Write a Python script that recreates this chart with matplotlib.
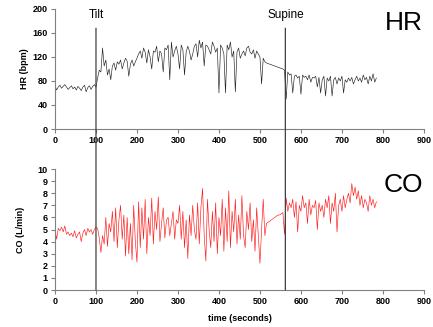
import numpy as np
import matplotlib
matplotlib.use("Agg")
import matplotlib.pyplot as plt
from matplotlib.patches import ConnectionPatch

plt.rcParams["font.family"] = ["Liberation Sans", "DejaVu Sans"]

# time axis (seconds), one sample every 4 s
t = np.arange(0, 785, 4)

hr = [72, 65, 70, 73, 68, 71, 74, 70, 66, 69, 72, 67, 70, 65, 71, 68, 64, 70, 73, 62, 69, 72, 66, 71, 74, 70,
      85, 98, 95, 135, 105,
      115, 90, 100, 82, 105, 110, 98, 112, 108, 115, 100, 110, 118, 113, 88, 108, 115, 105, 112, 118,
      125, 130, 118, 135, 128, 110, 132, 120, 100, 130, 128, 138, 112, 130, 125, 95, 135, 132, 140, 82, 145, 120, 130, 138, 125,
      100, 140, 132, 90, 128, 138, 130, 115, 125, 138, 142, 120, 148, 135, 145, 105, 140, 138, 132, 125, 145, 138, 128, 135, 60,
      140, 135, 125, 60, 140, 132, 145, 120, 130, 62, 128, 135, 118, 125, 130, 122, 135, 138, 128, 125, 132, 118, 130, 125, 120,
      75, 118, 112, 110, 109, 108, 107, 106, 105, 104, 103, 102, 101, 100, 98,
      50, 95, 90, 92, 60, 88, 90, 85, 88, 58, 90, 86, 88, 82, 90, 78, 86, 85, 88, 70, 86, 60, 82, 88, 55,
      85, 80, 88, 55, 82, 86, 75, 85, 80, 88, 60, 82, 78, 85, 80, 86, 75, 82, 88, 80, 85, 78, 90, 82, 86, 75, 88, 80, 92, 78, 85]

co = [5.0, 4.2, 5.1, 4.9, 5.2, 4.8, 5.3, 4.6, 4.8, 4.5, 4.7, 4.4, 4.9, 4.3, 4.6, 4.8, 4.0, 4.7, 5.0, 4.5, 5.1, 4.8, 5.0, 4.6, 5.0, 5.2,
      5.1, 4.3, 3.1, 4.5, 3.8,
      6.0, 3.6, 5.5, 4.8, 6.5, 4.0, 6.8, 3.5, 5.8, 7.0, 4.2, 6.2, 2.8, 6.0, 3.0, 5.5, 2.5, 7.0, 4.0, 2.3,
      7.3, 3.5, 6.8, 4.2, 7.5, 3.0, 6.0, 4.5, 7.6, 3.8, 6.5, 5.0, 7.7, 4.0, 5.5, 6.8, 4.3, 5.8, 6.0, 4.5, 5.5, 6.5, 4.2, 5.8, 5.5,
      7.0, 4.2, 6.5, 3.5, 5.8, 2.6, 6.2, 4.5, 7.0, 5.0, 4.2, 7.2, 3.8, 6.8, 8.4, 4.5, 2.4, 7.5, 5.0, 3.5, 6.5, 4.0, 7.2, 3.0, 6.0,
      4.5, 7.5, 3.2, 6.8, 4.0, 8.2, 3.5, 6.5, 4.8, 7.5, 3.8, 6.2, 4.2, 7.8, 4.5, 3.5, 6.5, 5.0, 7.2, 4.0, 5.8, 3.2, 6.8, 4.5, 2.2,
      5.0, 7.5, 4.5, 5.5, 5.6, 5.7, 5.8, 5.9, 6.0, 6.1, 6.2, 6.2, 6.3, 6.4, 4.6,
      7.6, 6.5, 7.2, 6.8, 7.5, 6.0, 7.3, 4.8, 7.0, 6.5, 7.8, 6.8, 7.2, 5.5, 7.5, 6.2, 7.0, 6.8, 7.4, 5.0, 7.2, 6.5, 7.0, 6.0, 7.5,
      6.8, 7.8, 5.5, 7.2, 6.5, 8.0, 4.8, 7.0, 7.5, 6.5, 7.8, 6.8, 7.5, 8.0, 7.2, 8.8, 7.8, 8.5, 7.5, 8.2, 7.0, 7.8, 6.8, 7.5, 7.2, 6.5, 7.8, 7.0, 7.5, 6.8, 7.3]

events = [100, 562]
event_labels = ["Tilt", "Supine"]

fig = plt.figure(figsize=(4.33, 3.27), dpi=100)
ax1 = fig.add_axes([0.127, 0.6055, 0.852, 0.367])
ax2 = fig.add_axes([0.127, 0.1131, 0.852, 0.370])

ax1.plot(t, hr, color="#222222", lw=0.45)
ax2.plot(t, co, color="#ff1a1a", lw=0.45)

for ax in (ax1, ax2):
    ax.set_xlim(0, 900)
    ax.set_xticks(range(0, 901, 100))
    for s in ("top", "right"):
        ax.spines[s].set_visible(False)
    for s in ("left", "bottom"):
        ax.spines[s].set_color("#808080")
        ax.spines[s].set_linewidth(0.8)
    ax.tick_params(direction="out", length=3, width=0.8, color="#808080",
                   labelsize=6.5, pad=2)

ax1.set_ylim(0, 200)
ax1.set_yticks(range(0, 201, 40))
ax2.set_ylim(0, 10)
ax2.set_yticks(range(0, 11))
for ax in (ax1, ax2):
    for lab in ax.get_xticklabels() + ax.get_yticklabels():
        lab.set_fontweight("bold")

ax1.set_ylabel("HR (bpm)", fontsize=6.5, fontweight="bold", labelpad=3)
ax2.set_ylabel("CO (L/min)", fontsize=6.5, fontweight="bold", labelpad=9)
ax2.set_xlabel("time (seconds)", fontsize=6.5, fontweight="bold", labelpad=6)

# vertical event lines through both panels
for x, name in zip(events, event_labels):
    con = ConnectionPatch(xyA=(x, 168), coordsA="data", axesA=ax1,
                          xyB=(x, 0), coordsB="data", axesB=ax2,
                          color="#404040", lw=0.9)
    fig.add_artist(con)
    ax1.text(x, 180, name, ha="center", va="bottom", fontsize=8.5, clip_on=False)

ax1.text(850, 197, "HR", ha="center", va="top", fontsize=19)
ax2.text(850, 9.7, "CO", ha="center", va="top", fontsize=19)

fig.savefig("out.png", dpi=100)
